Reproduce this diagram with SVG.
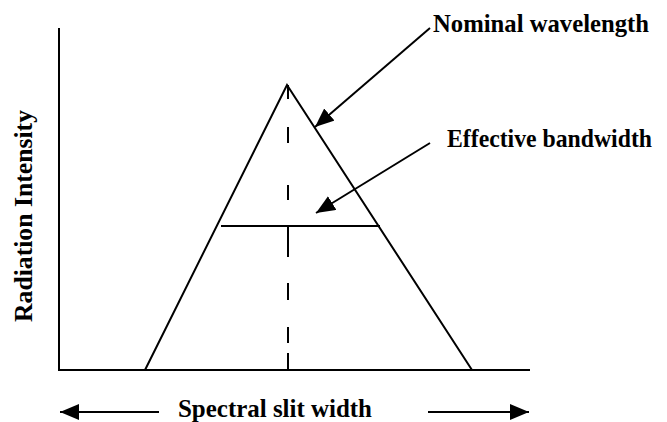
<svg xmlns="http://www.w3.org/2000/svg" width="667" height="422" viewBox="0 0 667 422">
<style>
.ln{stroke:#000;stroke-width:2;fill:none}
.lbl{font-family:"Liberation Serif","Times New Roman",serif;font-weight:bold;font-size:25px;fill:#000}
</style>
<defs>
<marker id="ah" markerUnits="userSpaceOnUse" markerWidth="22" markerHeight="18" refX="19" refY="8" orient="auto">
<path d="M0,0 L19,8 L0,16 Z" fill="#000"/>
</marker>
</defs>
<rect width="667" height="422" fill="#fff"/>
<g id="axes">
<path class="ln" d="M59,28 L59,370 L530,370"/>
</g>
<g id="peak">
<path class="ln" d="M145,370 L287,85 L472,370"/>
<path class="ln" d="M221,226 L380,226"/>
<path class="ln" d="M288,85 V99 M288,127 V143 M288,185 V200 M288,227 V257 M288,283 V300 M288,327 V343 M288,353 V370"/>
</g>
<g id="connectors">
<path class="ln" d="M430,28 L315,127" marker-end="url(#ah)"/>
<path class="ln" d="M430,143 L316,213" marker-end="url(#ah)"/>
<path class="ln" d="M159,412 L60,412" marker-end="url(#ah)"/>
<path class="ln" d="M428,412 L529,412" marker-end="url(#ah)"/>
</g>
<g id="labels">
<text class="lbl" x="433" y="32" textLength="216" lengthAdjust="spacingAndGlyphs">Nominal wavelength</text>
<text class="lbl" x="447" y="147" textLength="205" lengthAdjust="spacingAndGlyphs">Effective bandwidth</text>
<text class="lbl" x="178" y="417" textLength="194" lengthAdjust="spacingAndGlyphs">Spectral slit width</text>
<text class="lbl" transform="translate(32,216) rotate(-90)" text-anchor="middle" textLength="212" lengthAdjust="spacingAndGlyphs">Radiation Intensity</text>
</g>
</svg>
